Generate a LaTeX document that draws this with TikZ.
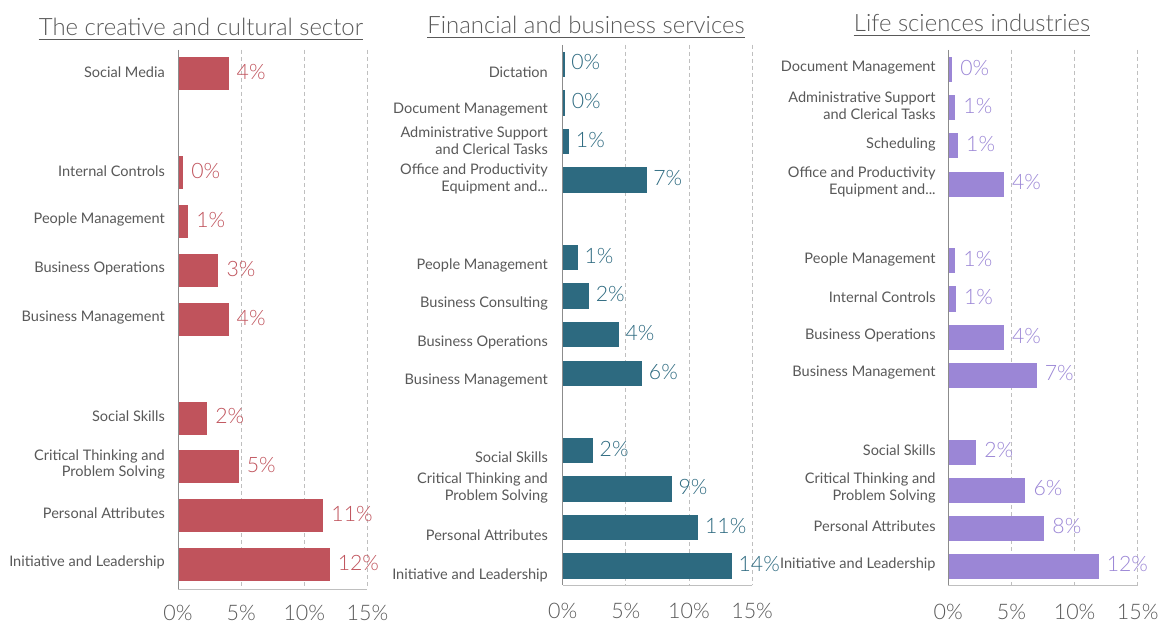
\documentclass[tikz,border=0pt]{standalone}
\usepackage{fontspec}
\setmainfont{Lato}
\newfontfamily\lightfont{Lato Light}
\definecolor{txt}{HTML}{595959}
\definecolor{redbar}{HTML}{C0535C}
\definecolor{tealbar}{HTML}{2D6A80}
\definecolor{purpbar}{HTML}{9B86D6}
\definecolor{gridc}{HTML}{BFBFBF}
\definecolor{axisc}{HTML}{8C8C8C}
\tikzset{
  lab/.style={anchor=east, align=right, text=txt, font=\fontsize{14.6}{17}\selectfont, inner sep=0pt},
  val/.style={anchor=west, font=\lightfont\fontsize{21.3}{24}\selectfont, inner sep=0pt},
  tick/.style={font=\lightfont\fontsize{21.5}{24}\selectfont, text=txt, inner sep=0pt},
  ttl/.style={font=\lightfont\fontsize{24}{26}\selectfont, text=txt, inner sep=0pt},
  gridline/.style={draw=gridc, dash pattern=on 4bp off 3bp, line width=0.8bp},
  axisline/.style={draw=axisc, line width=1bp},
  baseline/.style={draw=gridc, line width=1bp},
}
\begin{document}
\begin{tikzpicture}[x=1bp,y=-1bp]
\useasboundingbox (0,0) rectangle (1163,624);
\fill[white] (0,0) rectangle (1163,624);
\def\pu{12.63}
% ---------------- Panel 1 ----------------
\begin{scope}[shift={(178,0)}]
  \foreach \k in {1,2,3} \draw[gridline] (\k*5*\pu,50) -- (\k*5*\pu,589);
  \draw[baseline] (0,589) -- (15*\pu,589);
  \foreach \y/\v/\lab/\val/\n in {
     74/4.0/{Social Media}/4/a1,
     173/0.4/{Internal Controls}/0/a2,
     221.5/0.8/{People Management}/1/a3,
     270.5/3.2/{Business Operations}/3/a4,
     319.5/4.0/{Business Management}/4/a5,
     418/2.3/{Social Skills}/2/a6,
     466.5/4.8/{Critical Thinking and\\Problem Solving}/5/a7,
     515.5/11.5/{Personal Attributes}/11/a8,
     564.5/12.0/{Initiative and Leadership}/12/a9}{
    \fill[redbar] (0,\y-16.5) rectangle (\v*\pu,\y+16.5);
    \node[lab] (l\n) at (-13,\y-2) {\lab};
    \node[val, text=redbar] (v\n) at (\v*\pu+8,\y-2) {\val\%};
  }
  \draw[axisline] (0,50) -- (0,589);
  \foreach \k in {0,1,2,3} \node[tick] (ta\k) at (\k*5*\pu,613) {\the\numexpr\k*5\relax\%};
\end{scope}
\node[ttl] (t1) at (201,27) {The creative and cultural sector};
\draw[draw=txt, line width=0.9bp] ([yshift=-3bp]t1.south west) -- ([yshift=-3bp]t1.south east);
% ---------------- Panel 2 ----------------
\begin{scope}[shift={(562.7,0)}]
  \foreach \k in {1,2,3} \draw[gridline] (\k*5*\pu,45) -- (\k*5*\pu,585);
  \draw[baseline] (0,585) -- (15*\pu,585);
  \foreach \y/\v/\lab/\val/\dy/\n in {
     64.5/0.15/{Dictation}/0/7.5/b1,
     103/0.2/{Document Management}/0/7/b2,
     141.5/0.52/{Administrative Support\\and Clerical Tasks}/1/-1/b3,
     180/6.65/{Office and Productivity\\Equipment and...}/7/-1/b4,
     257.5/1.2/{People Management}/1/7.5/b5,
     296/2.1/{Business Consulting}/2/7/b6,
     334.5/4.45/{Business Operations}/4/7.5/b7,
     373.5/6.3/{Business Management}/6/7.5/b8,
     450.5/2.4/{Social Skills}/2/7/b9,
     489/8.65/{Critical Thinking and\\Problem Solving}/9/-1/b10,
     527.5/10.75/{Personal Attributes}/11/8/b11,
     566/13.4/{Initiative and Leadership}/14/9/b12}{
    \fill[tealbar] (0,\y-12.7) rectangle (\v*\pu,\y+12.7);
    \node[lab] (l\n) at (-14.7,\y+\dy) {\lab};
    \node[val, text=tealbar] (v\n) at (\v*\pu+6.5,\y-2) {\val\%};
  }
  \draw[axisline] (0,45) -- (0,585);
  \foreach \k in {0,1,2,3} \node[tick] (tb\k) at (\k*5*\pu,611) {\the\numexpr\k*5\relax\%};
\end{scope}
\node[ttl] (t2) at (586,25) {Financial and business services};
\draw[draw=txt, line width=0.9bp] ([yshift=-3bp]t2.south west) -- ([yshift=-3bp]t2.south east);
% ---------------- Panel 3 ----------------
\begin{scope}[shift={(948.3,0)}]
  \foreach \k in {1,2,3} \draw[gridline] (\k*5*\pu,50) -- (\k*5*\pu,585);
  \draw[baseline] (0,585) -- (15*\pu,585);
  \foreach \y/\v/\lab/\val/\n in {
     70/0.3/{Document Management}/0/c1,
     108/0.55/{Administrative Support\\and Clerical Tasks}/1/c2,
     146/0.77/{Scheduling}/1/c3,
     184.3/4.4/{Office and Productivity\\Equipment and...}/4/c4,
     261/0.55/{People Management}/1/c5,
     299/0.6/{Internal Controls}/1/c6,
     337.5/4.4/{Business Operations}/4/c7,
     375/7.0/{Business Management}/7/c8,
     452/2.2/{Social Skills}/2/c9,
     490/6.1/{Critical Thinking and\\Problem Solving}/6/c10,
     528/7.6/{Personal Attributes}/8/c11,
     566/11.9/{Initiative and Leadership}/12/c12}{
    \fill[purpbar] (0,\y-12.5) rectangle (\v*\pu,\y+12.5);
    \node[lab] (l\n) at (-12.5,\y-2) {\lab};
    \node[val, text=purpbar] (v\n) at (\v*\pu+8,\y-2) {\val\%};
  }
  \draw[axisline] (0,50) -- (0,585);
  \foreach \k in {0,1,2,3} \node[tick] (tc\k) at (\k*5*\pu,612) {\the\numexpr\k*5\relax\%};
\end{scope}
\node[ttl] (t3) at (972,23) {Life sciences industries};
\draw[draw=txt, line width=0.9bp] ([yshift=-3bp]t3.south west) -- ([yshift=-3bp]t3.south east);
\end{tikzpicture}
\end{document}
